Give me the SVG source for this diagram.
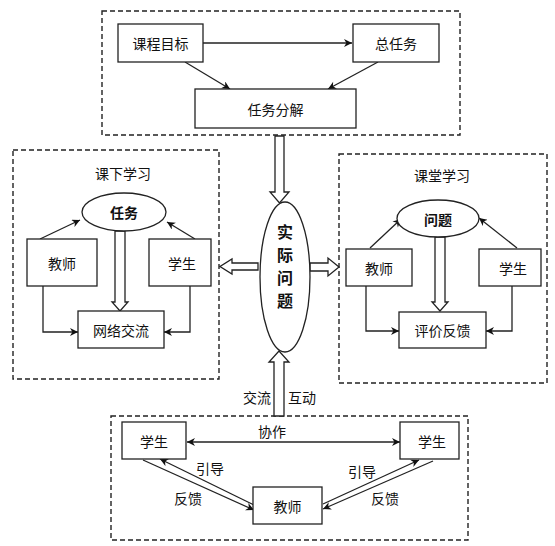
<svg xmlns="http://www.w3.org/2000/svg" width="555" height="546" viewBox="0 0 555 546">
<defs>
<style>
.dash{fill:none;stroke:#222;stroke-width:1.4;stroke-dasharray:5,3}
.box{fill:#fff;stroke:#222;stroke-width:1.3}
.ln{fill:none;stroke:#222;stroke-width:1.3}
.hol{fill:#fff;stroke:#222;stroke-width:1.3;stroke-linejoin:miter}
.t{font-family:"Noto Sans CJK SC","Noto Sans",sans-serif;font-size:14px;fill:#111;text-anchor:middle;dominant-baseline:central}
.b{font-weight:bold}
</style>
<marker id="ah" viewBox="0 0 10 10" refX="10" refY="5" markerWidth="9" markerHeight="8" markerUnits="userSpaceOnUse" orient="auto-start-reverse">
<path d="M0,0 L10,5 L0,10 L3,5 Z" fill="#111"/>
</marker>
</defs>
<rect width="555" height="546" fill="#fff"/>

<g id="frames">
<rect class="dash" x="102" y="11" width="358" height="124"/>
<rect class="dash" x="13" y="150" width="206" height="229"/>
<rect class="dash" x="339" y="154" width="208" height="229"/>
<rect class="dash" x="111" y="416" width="357" height="124"/>
</g>

<g id="connectors">
<line class="ln" x1="203" y1="43" x2="352" y2="43" marker-end="url(#ah)"/>
<line class="ln" x1="185" y1="62" x2="230" y2="89" marker-end="url(#ah)"/>
<line class="ln" x1="378" y1="62" x2="328" y2="89" marker-end="url(#ah)"/>
<polygon class="hol" points="275,136 284,136 284,192 289,192 279.5,203 270,192 275,192"/>
<polygon class="hol" points="258,263 232,263 232,259 220,266.5 232,274 232,270 258,270"/>
<polygon class="hol" points="310,263 328,263 328,258 339,267 328,276 328,271 310,271"/>
<polygon class="hol" points="274,416 284,416 284,362 289,362 279,351 269,362 274,362"/>
<line class="ln" x1="40" y1="239" x2="80" y2="220" marker-end="url(#ah)"/>
<line class="ln" x1="195" y1="239" x2="167" y2="222" marker-end="url(#ah)"/>
<polyline class="ln" points="43,286 43,332 78,332" marker-end="url(#ah)"/>
<polyline class="ln" points="190,286 190,332 164,332" marker-end="url(#ah)"/>
<polygon class="hol" points="115,231 125,231 125,302 128,302 120,311 112,302 115,302"/>
<line class="ln" x1="370" y1="248" x2="401" y2="219" marker-end="url(#ah)"/>
<line class="ln" x1="517" y1="248" x2="479" y2="218" marker-end="url(#ah)"/>
<polyline class="ln" points="366,286 366,331 399,331" marker-end="url(#ah)"/>
<polyline class="ln" points="512,286 512,331 486,331" marker-end="url(#ah)"/>
<polygon class="hol" points="435,237 445,237 445,302 448,302 440,311 432,302 435,302"/>
<line class="ln" x1="187" y1="442" x2="400" y2="442" marker-start="url(#ah)" marker-end="url(#ah)"/>
<line class="ln" x1="143" y1="460" x2="254" y2="510" marker-end="url(#ah)"/>
<line class="ln" x1="254" y1="505" x2="160" y2="459" marker-end="url(#ah)"/>
<line class="ln" x1="323" y1="504" x2="419" y2="460" marker-end="url(#ah)"/>
<line class="ln" x1="433" y1="461" x2="323" y2="509" marker-end="url(#ah)"/>
</g>

<g id="n-goal"><rect class="box" x="118" y="24" width="85" height="38"/><text class="t" x="160.5" y="43">课程目标</text></g>
<g id="n-total"><rect class="box" x="353" y="24" width="86" height="38"/><text class="t" x="396" y="43">总任务</text></g>
<g id="n-decomp"><rect class="box" x="195" y="89" width="161" height="39"/><text class="t" x="275.5" y="108.5">任务分解</text></g>

<g id="n-center"><ellipse class="box" cx="285" cy="277" rx="25" ry="75"/>
<text class="t b" x="285" y="231" style="font-size:16px">实</text>
<text class="t b" x="285" y="254" style="font-size:16px">际</text>
<text class="t b" x="285" y="277" style="font-size:16px">问</text>
<text class="t b" x="285" y="300" style="font-size:16px">题</text></g>

<g id="n-after"><text class="t" x="123" y="173">课下学习</text></g>
<g id="n-task"><ellipse class="box" cx="124" cy="212" rx="42" ry="19"/><text class="t b" x="124" y="212">任务</text></g>
<g id="n-teacher1"><rect class="box" x="27" y="239" width="70" height="47"/><text class="t" x="62" y="262.5">教师</text></g>
<g id="n-student1"><rect class="box" x="149" y="239" width="62" height="47"/><text class="t" x="182" y="262.5">学生</text></g>
<g id="n-net"><rect class="box" x="78" y="311" width="86" height="37"/><text class="t" x="121" y="329.5">网络交流</text></g>

<g id="n-class"><text class="t" x="442" y="175">课堂学习</text></g>
<g id="n-problem"><ellipse class="box" cx="438" cy="218.5" rx="41" ry="18.5"/><text class="t b" x="438" y="218.5">问题</text></g>
<g id="n-teacher2"><rect class="box" x="346" y="249" width="66" height="37"/><text class="t" x="379" y="267.5">教师</text></g>
<g id="n-student2"><rect class="box" x="479" y="249" width="62" height="37"/><text class="t" x="513" y="267.5">学生</text></g>
<g id="n-eval"><rect class="box" x="399" y="312" width="87" height="36"/><text class="t" x="442.5" y="330">评价反馈</text></g>

<g id="labels-mid"><text class="t" x="257" y="397">交流</text><text class="t" x="302" y="397">互动</text></g>

<g id="n-sl"><rect class="box" x="122" y="422" width="64" height="37"/><text class="t" x="154" y="440.5">学生</text></g>
<g id="n-sr"><rect class="box" x="400" y="422" width="59" height="37"/><text class="t" x="432" y="440.5">学生</text></g>
<g id="n-tb"><rect class="box" x="253" y="487" width="69" height="37"/><text class="t" x="287.5" y="505.5">教师</text></g>
<g id="labels-bottom">
<text class="t" x="272" y="431">协作</text>
<text class="t" x="210" y="468">引导</text>
<text class="t" x="188" y="498">反馈</text>
<text class="t" x="362" y="471">引导</text>
<text class="t" x="385" y="498">反馈</text>
</g>
</svg>
